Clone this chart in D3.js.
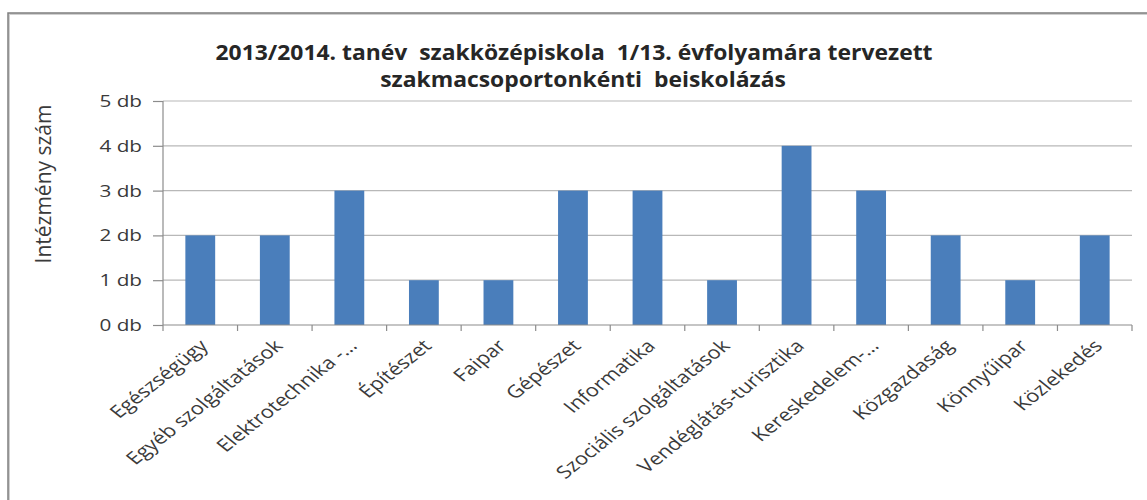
<!DOCTYPE html>
<html><head><meta charset="utf-8">
<script src="https://cdn.jsdelivr.net/npm/d3@7"></script>
<style>body{margin:0;background:#fff;} svg{display:block;} text{white-space:pre;}</style>
</head><body>
<script>
const categories = ["Egészségügy","Egyéb szolgáltatások","Elektrotechnika -…","Építészet","Faipar","Gépészet","Informatika","Szociális szolgáltatások","Vendéglátás-turisztika","Kereskedelem-…","Közgazdaság","Könnyűipar","Közlekedés"];
const values = [2,2,3,1,1,3,3,1,4,3,2,1,2];
const yTicks = [0,1,2,3,4,5];
const yTickLabels = ["0 db","1 db","2 db","3 db","4 db","5 db"];
const titleLines = ["2013/2014. tanév  szakközépiskola  1/13. évfolyamára tervezett","szakmacsoportonkénti  beiskolázás"];
const yTitle = "Intézmény szám";

(function(){
const W = 1147, H = 500;
const svg = d3.select("body").append("svg").attr("width", W).attr("height", H);
const font = "'Open Sans', 'Noto Sans', sans-serif";

// outer frame
svg.append("rect").attr("x", 9).attr("y", 14).attr("width", W + 20).attr("height", H + 20)
  .attr("fill", "none").attr("stroke", "#d0d0d0").attr("stroke-width", 2);
svg.append("rect").attr("x", 8).attr("y", 13).attr("width", W + 20).attr("height", H + 20)
  .attr("fill", "none").attr("stroke", "#7f7f7f").attr("stroke-width", 1.5);

const pl = 163, pr = 1132, pt = 101, pb = 325;
const x = d3.scaleBand().domain(categories).range([pl, pr]).paddingInner(0.6).paddingOuter(0.3);
const y = d3.scaleLinear().domain([0, 5]).range([pb, pt]);

// gridlines
svg.append("g").selectAll("line").data(yTicks.filter(d => d > 0)).join("line")
  .attr("x1", pl).attr("x2", pr).attr("y1", d => y(d)).attr("y2", d => y(d))
  .attr("stroke", "#b8b8b8").attr("stroke-width", 1.2);

// bars
svg.append("g").selectAll("rect").data(values).join("rect")
  .attr("x", (d, i) => x(categories[i]))
  .attr("y", d => y(d))
  .attr("width", x.bandwidth())
  .attr("height", d => y(0) - y(d))
  .attr("fill", "#4a7ebb");

// y axis
const sx = 1.22;
const yAxis = d3.axisLeft(y).tickValues(yTicks).tickFormat((d, i) => yTickLabels[i]).tickSize(10).tickPadding(11);
const ga = svg.append("g").attr("transform", `translate(${pl},0)`).call(yAxis);
ga.select(".domain").attr("stroke", "#8c8c8c").attr("stroke-width", 1.2).attr("d", `M0,${pt}V${pb}`);
ga.selectAll(".tick line").attr("stroke", "#8c8c8c").attr("stroke-width", 1.2);
ga.selectAll(".tick text").attr("font-family", font).attr("font-size", 17).attr("fill", "#3a3a3a")
  .attr("x", -21 / sx).attr("transform", `scale(${sx},1)`);

// x axis
const boundaries = d3.range(categories.length + 1).map(i => pl + i * (pr - pl) / categories.length);
svg.append("line").attr("x1", pl).attr("x2", pr).attr("y1", pb).attr("y2", pb)
  .attr("stroke", "#8c8c8c").attr("stroke-width", 1.2);
svg.append("g").selectAll("line").data(boundaries).join("line")
  .attr("x1", d => d).attr("x2", d => d).attr("y1", pb).attr("y2", pb + 6)
  .attr("stroke", "#8c8c8c").attr("stroke-width", 1.2);

svg.append("g").selectAll("text").data(categories).join("text")
  .attr("transform", d => `translate(${x(d) + x.bandwidth() / 2 + 9},${pb + 22}) scale(1.25,1) rotate(-45)`)
  .attr("text-anchor", "end")
  .attr("font-family", font).attr("font-size", 17.5).attr("fill", "#3a3a3a")
  .text(d => d);

// y title
svg.append("text")
  .attr("transform", `translate(51,184) rotate(-90)`)
  .attr("text-anchor", "middle")
  .attr("font-family", font).attr("font-size", 21).attr("fill", "#3a3a3a")
  .text(yTitle);

// title
svg.append("text").attr("transform", "translate(574,60) scale(1.09,1)").attr("text-anchor", "middle")
  .attr("font-family", font).attr("font-size", 21).attr("font-weight", "bold").attr("fill", "#262626")
  .text(titleLines[0]);
svg.append("text").attr("transform", "translate(583,87) scale(1.09,1)").attr("text-anchor", "middle")
  .attr("font-family", font).attr("font-size", 21).attr("font-weight", "bold").attr("fill", "#262626")
  .text(titleLines[1]);
})();
</script>
</body></html>
